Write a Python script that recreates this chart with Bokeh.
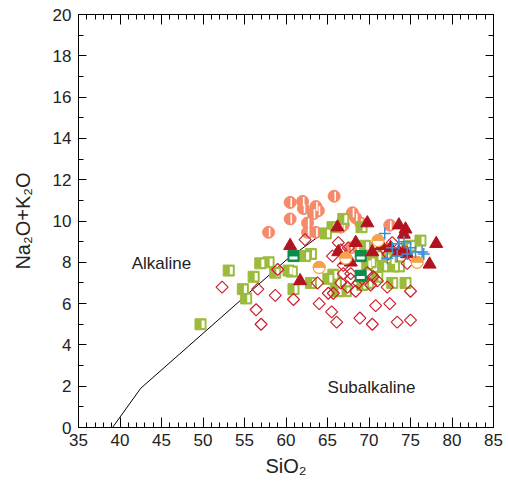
from bokeh.plotting import figure
from bokeh.models import LinearAxis, Range1d, Label, ColumnDataSource, FixedTicker
from bokeh.models.labeling import CustomLabelingPolicy
from bokeh.transform import dodge
from bokeh.embed import file_html
from bokeh.resources import INLINE
import math

# Alkaline / subalkaline boundary
boundary_x = [39.1, 42.5, 60.0, 66.5]
boundary_y = [0.0, 1.9, 8.1, 10.0]

# Yellow-green half-filled squares
green_x = [49.7, 53.1, 54.8, 55.2, 56.1, 56.9, 57.9, 58.7, 60.3, 60.7, 60.9, 62.3, 63.0, 63.0,
           64.8, 65.6, 66.9, 69.1, 65.1, 65.7, 66.0, 66.2, 67.2, 69.2, 69.9, 69.8, 70.4, 71.0,
           70.2, 71.7, 73.0, 72.6, 73.6, 72.8, 74.4, 75.0, 76.2, 74.6, 70.5, 71.5, 72.0, 71.0, 69.5]
green_y = [5.0, 7.6, 6.7, 6.25, 7.3, 7.95, 8.0, 7.5, 7.6, 7.55, 6.7, 8.3, 7.0, 8.4,
           9.4, 9.7, 10.1, 9.7, 7.2, 7.4, 7.0, 6.6, 6.6, 6.9, 7.0, 7.9, 8.7, 8.3,
           8.0, 7.8, 7.8, 8.1, 7.8, 7.0, 7.0, 8.8, 9.05, 8.7, 8.5, 8.6, 8.2, 7.3, 8.8]

# Dark green squares
dgreen_x = [60.9, 69.0, 69.0]
dgreen_y = [8.3, 8.3, 7.35]

# Salmon half circles
salmon_x = [60.5, 62.0, 62.1, 63.6, 63.9, 63.3, 65.8, 60.5, 62.6, 62.6, 63.6, 57.9, 68.0, 68.4,
            69.0, 66.9, 72.5, 67.8, 66.6]
salmon_y = [10.9, 10.95, 10.6, 10.7, 10.5, 10.35, 11.2, 10.1, 9.9, 9.45, 9.45, 9.45, 10.4, 10.15,
            9.9, 9.8, 9.8, 8.7, 9.7]

# Orange half circles
orange_x = [64.0, 67.2, 71.1, 75.8]
orange_y = [7.75, 8.2, 9.05, 8.0]

# Dark red triangles
tri_x = [60.5, 61.7, 66.2, 66.3, 67.2, 68.4, 69.8, 70.4, 72.6, 73.6, 74.4, 74.2, 73.6, 74.2,
         74.6, 77.3, 78.1, 71.5, 67.8]
tri_y = [8.8, 7.1, 9.7, 8.5, 8.1, 8.95, 9.9, 8.5, 8.7, 9.8, 9.6, 9.35, 8.5, 8.5,
         8.4, 7.9, 8.9, 8.8, 8.0]

# Blue plus
plus_x = [71.9, 72.8, 73.6, 74.2, 75.0, 75.6, 76.6, 73.4, 74.6, 72.2, 76.4]
plus_y = [9.4, 8.7, 8.9, 9.0, 8.7, 8.5, 8.4, 8.3, 8.4, 8.2, 8.5]

# Red open diamonds
dia_x = [52.3, 56.6, 56.4, 57.0, 58.7, 59.0, 60.9, 62.3, 63.8, 64.0, 65.5, 66.1, 68.9, 65.1,
         65.7, 67.4, 67.8, 68.7, 65.6, 66.9, 66.3, 66.6, 67.5, 66.9, 67.8, 66.6, 69.8, 70.5,
         70.2, 71.7, 72.3, 72.8, 74.6, 75.0, 68.4, 69.2, 70.8, 72.5, 75.0, 73.4, 70.4, 72.2, 71.0]
dia_y = [6.8, 6.7, 5.7, 5.0, 6.4, 7.65, 6.2, 9.1, 7.0, 6.0, 5.6, 5.1, 5.3, 6.5,
         6.5, 6.8, 7.2, 7.0, 8.3, 7.45, 8.95, 8.6, 8.7, 7.85, 7.45, 7.0, 7.5, 7.3,
         6.9, 8.7, 8.4, 8.95, 7.95, 6.6, 6.6, 7.2, 5.9, 6.0, 5.2, 5.1, 5.0, 6.8, 7.1]

x_ticks = list(range(35, 86, 5))
x_minor = list(range(35, 86, 1))
y_ticks = list(range(0, 21, 2))
y_minor = list(range(0, 21, 1))

FONT = "Liberation Sans"

p = figure(width=508, height=485, x_range=Range1d(35, 85), y_range=Range1d(0, 20),
           output_backend="svg", toolbar_location=None,
           min_border_left=78, min_border_right=15, min_border_top=14, min_border_bottom=58)
p.xgrid.visible = False
p.ygrid.visible = False
p.outline_line_color = "black"
p.outline_line_width = 1
p.background_fill_color = "white"
p.border_fill_color = "white"

def style_axis(ax, ticks, minor, major_len, minor_len, labels=True):
    ax.ticker = FixedTicker(ticks=ticks, minor_ticks=minor)
    ax.major_tick_in = major_len
    ax.major_tick_out = 0
    ax.minor_tick_in = minor_len
    ax.minor_tick_out = 0
    ax.axis_line_color = "black"
    ax.major_tick_line_color = "black"
    ax.minor_tick_line_color = "black"
    ax.major_label_text_font = FONT
    ax.major_label_text_color = "#222222"
    if labels:
        ax.major_label_text_font_size = "17px"
    else:
        ax.major_label_text_font_size = "0px"
        ax.major_label_standoff = 0
        ax.major_label_policy = CustomLabelingPolicy(code="for (const i of indices) indices.unset(i)")

style_axis(p.xaxis[0], x_ticks, x_minor, 10, 5)
style_axis(p.yaxis[0], y_ticks, y_minor, 8, 5)
p.xaxis[0].major_label_standoff = 6
p.yaxis[0].major_label_standoff = 7
p.xaxis[0].axis_label = "SiO₂"
p.yaxis[0].axis_label = "Na₂O+K₂O"
for ax in (p.xaxis[0], p.yaxis[0]):
    ax.axis_label_text_font = FONT
    ax.axis_label_text_font_size = "20px"
    ax.axis_label_text_font_style = "normal"
    ax.axis_label_text_color = "#222222"
p.xaxis[0].axis_label_standoff = 6
p.yaxis[0].axis_label_standoff = 16

top_ax = LinearAxis()
style_axis(top_ax, x_ticks, x_minor, 10, 5, labels=False)
p.add_layout(top_ax, "above")
right_ax = LinearAxis()
style_axis(right_ax, y_ticks, y_minor, 8, 5, labels=False)
p.add_layout(right_ax, "right")

# boundary line
p.line(boundary_x, boundary_y, line_color="black", line_width=1)

# salmon half circles
s_src = ColumnDataSource(dict(x=salmon_x, y=salmon_y))
p.scatter("x", "y", source=s_src, marker="circle", size=12, fill_color="#f58a6b",
          line_color="#f58a6b")
p.rect(x=dodge("x", 0.13, range=p.x_range), y="y", width=1.6, height=9, width_units="screen",
       height_units="screen", source=s_src, fill_color="white", line_color=None)

# green half squares
g_src = ColumnDataSource(dict(x=green_x, y=green_y))
p.scatter("x", "y", source=g_src, marker="square", size=11, fill_color="#9cba3c",
          line_color="#9cba3c")
p.rect(x=dodge("x", 0.31, range=p.x_range), y="y", width=3, height=7.5, width_units="screen",
       height_units="screen", source=g_src, fill_color="white", line_color=None)

# red open diamonds (rotated squares)
p.scatter(dia_x, dia_y, marker="square", angle=math.pi / 4, size=8.5, fill_color=None,
          line_color="#cc2030", line_width=1.2)

# dark green squares
d_src = ColumnDataSource(dict(x=dgreen_x, y=dgreen_y))
p.scatter("x", "y", source=d_src, marker="square", size=11, fill_color="#0c8c4c",
          line_color="#0c8c4c")
p.rect(x="x", y=dodge("y", -0.09, range=p.y_range), width=8, height=3, width_units="screen",
       height_units="screen", source=d_src, fill_color="white", line_color=None)

# dark red triangles
p.scatter(tri_x, tri_y, marker="triangle", size=13, fill_color="#b3121f", line_color="#b3121f")

# orange half circles
o_src = ColumnDataSource(dict(x=orange_x, y=orange_y))
p.scatter("x", "y", source=o_src, marker="circle", size=12, fill_color="white",
          line_color="#f7a24a", line_width=1.2)
p.wedge(x="x", y="y", radius=6, radius_units="screen", start_angle=0, end_angle=math.pi,
        source=o_src, fill_color="#f7a24a", line_color="#f7a24a")

# blue plus
p.scatter(plus_x, plus_y, marker="cross", size=12, line_color="#3d8fd6", line_width=1.5)

# annotations
p.add_layout(Label(x=45.0, y=7.95, text="Alkaline", text_font=FONT, text_font_size="17px",
                   text_align="center", text_baseline="middle", text_color="#222222"))
p.add_layout(Label(x=70.3, y=1.94, text="Subalkaline", text_font=FONT, text_font_size="17px",
                   text_align="center", text_baseline="middle", text_color="#222222"))

open("out.html", "w").write(file_html(p, INLINE))
